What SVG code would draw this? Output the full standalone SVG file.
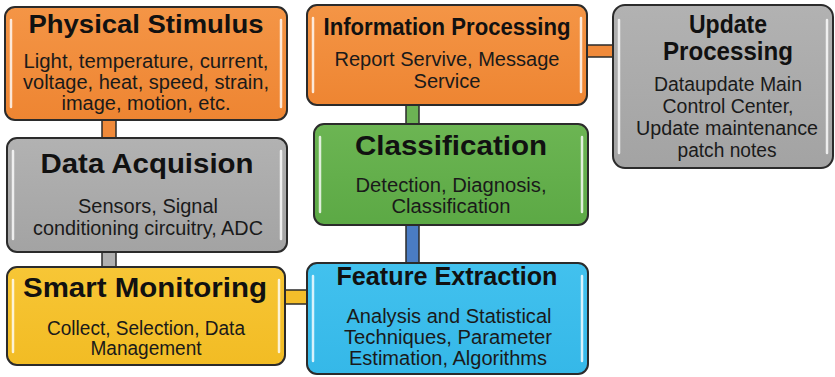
<svg xmlns="http://www.w3.org/2000/svg" width="835" height="377" viewBox="0 0 835 377">
<defs>
<style>
.box{stroke:#2b2b2b;stroke-width:2}
.hl{stroke:#ffffff;stroke-width:2.5;stroke-linecap:round;opacity:0.8;fill:none}
.t{font-family:"Liberation Sans",Arial,sans-serif;font-weight:bold;fill:#111;text-anchor:middle}
.b{font-family:"Liberation Sans",Arial,sans-serif;fill:#1a1a1a;text-anchor:middle;font-size:20px}
.c{stroke:#2b2b2b;stroke-width:1.5}
</style>
<linearGradient id="gO" x1="0" y1="0" x2="0" y2="1"><stop offset="0" stop-color="#f49546"/><stop offset="1" stop-color="#ee8532"/></linearGradient>
<linearGradient id="gG" x1="0" y1="0" x2="0" y2="1"><stop offset="0" stop-color="#b2b2b2"/><stop offset="1" stop-color="#a3a3a3"/></linearGradient>
<linearGradient id="gN" x1="0" y1="0" x2="0" y2="1"><stop offset="0" stop-color="#6cb553"/><stop offset="1" stop-color="#5ca945"/></linearGradient>
<linearGradient id="gY" x1="0" y1="0" x2="0" y2="1"><stop offset="0" stop-color="#f7c636"/><stop offset="1" stop-color="#f2bc24"/></linearGradient>
<linearGradient id="gB" x1="0" y1="0" x2="0" y2="1"><stop offset="0" stop-color="#42c1ee"/><stop offset="1" stop-color="#35b8e8"/></linearGradient>
</defs>
<g id="connectors">
<rect class="c" x="102" y="119" width="14" height="20" fill="#f08a3a"/>
<rect class="c" x="102" y="251" width="14" height="17" fill="#b0b0b0"/>
<rect class="c" x="285" y="290" width="23" height="14" fill="#f4be2a"/>
<rect class="c" x="406" y="104" width="13" height="21" fill="#6cb354"/>
<rect class="c" x="406" y="224" width="13" height="40" fill="#4a7cc4"/>
<rect class="c" x="586" y="45" width="28" height="12" fill="#f08a3a"/>
</g>
<g id="physical-stimulus">
<rect class="box" x="5" y="7" width="282" height="113" rx="10" fill="url(#gO)"/>
<path class="hl" d="M11 20V107M281 20V107"/>
<text class="t" x="146" y="33" font-size="25" textLength="235" lengthAdjust="spacingAndGlyphs">Physical Stimulus</text>
<text class="b" x="146" y="68" textLength="245" lengthAdjust="spacingAndGlyphs">Light, temperature, current,</text>
<text class="b" x="146" y="89" textLength="246" lengthAdjust="spacingAndGlyphs">voltage, heat, speed, strain,</text>
<text class="b" x="146" y="110" textLength="169" lengthAdjust="spacingAndGlyphs">image, motion, etc.</text>
</g>
<g id="data-acquision">
<rect class="box" x="7" y="138" width="280" height="114" rx="10" fill="url(#gG)"/>
<path class="hl" d="M13 151V239M281 151V239"/>
<text class="t" x="147" y="173" font-size="28" textLength="213" lengthAdjust="spacingAndGlyphs">Data Acquision</text>
<text class="b" x="148" y="213" textLength="140" lengthAdjust="spacingAndGlyphs">Sensors, Signal</text>
<text class="b" x="148" y="235" textLength="230" lengthAdjust="spacingAndGlyphs">conditioning circuitry, ADC</text>
</g>
<g id="smart-monitoring">
<rect class="box" x="7" y="267" width="278" height="98" rx="10" fill="url(#gY)"/>
<path class="hl" d="M13 280V352M279 280V352"/>
<text class="t" x="145" y="297" font-size="27" textLength="244" lengthAdjust="spacingAndGlyphs">Smart Monitoring</text>
<text class="b" x="146" y="335" textLength="198" lengthAdjust="spacingAndGlyphs">Collect, Selection, Data</text>
<text class="b" x="146" y="355" textLength="111" lengthAdjust="spacingAndGlyphs">Management</text>
</g>
<g id="information-processing">
<rect class="box" x="307" y="5" width="280" height="100" rx="10" fill="url(#gO)"/>
<path class="hl" d="M313 18V92M581 18V92"/>
<text class="t" x="447" y="35" font-size="23" textLength="247" lengthAdjust="spacingAndGlyphs">Information Processing</text>
<text class="b" x="447" y="66" textLength="225" lengthAdjust="spacingAndGlyphs">Report Servive, Message</text>
<text class="b" x="447" y="88" textLength="67" lengthAdjust="spacingAndGlyphs">Service</text>
</g>
<g id="classification">
<rect class="box" x="314" y="124" width="274" height="101" rx="10" fill="url(#gN)"/>
<path class="hl" d="M320 137V212M582 137V212"/>
<text class="t" x="451" y="155" font-size="28" textLength="192" lengthAdjust="spacingAndGlyphs">Classification</text>
<text class="b" x="451" y="192" textLength="191" lengthAdjust="spacingAndGlyphs">Detection, Diagnosis,</text>
<text class="b" x="451" y="213" textLength="119" lengthAdjust="spacingAndGlyphs">Classification</text>
</g>
<g id="feature-extraction">
<rect class="box" x="307" y="263" width="281" height="111" rx="10" fill="url(#gB)"/>
<path class="hl" d="M313 276V361M582 276V361"/>
<text class="t" x="447" y="285" font-size="25" textLength="221" lengthAdjust="spacingAndGlyphs">Feature Extraction</text>
<text class="b" x="449" y="323" textLength="205" lengthAdjust="spacingAndGlyphs">Analysis and Statistical</text>
<text class="b" x="448" y="344" textLength="208" lengthAdjust="spacingAndGlyphs">Techniques, Parameter</text>
<text class="b" x="448" y="365" textLength="198" lengthAdjust="spacingAndGlyphs">Estimation, Algorithms</text>
</g>
<g id="update-processing">
<rect class="box" x="613" y="5" width="220" height="163" rx="12" fill="url(#gG)"/>
<path class="hl" d="M619 20V153M827 20V153"/>
<text class="t" x="728" y="33" font-size="25" textLength="78" lengthAdjust="spacingAndGlyphs">Update</text>
<text class="t" x="728" y="60" font-size="25" textLength="130" lengthAdjust="spacingAndGlyphs">Processing</text>
<text class="b" x="728" y="91" textLength="148" lengthAdjust="spacingAndGlyphs">Dataupdate Main</text>
<text class="b" x="728" y="113" textLength="131" lengthAdjust="spacingAndGlyphs">Control Center,</text>
<text class="b" x="727" y="135" textLength="182" lengthAdjust="spacingAndGlyphs">Update maintenance</text>
<text class="b" x="727" y="157" textLength="99" lengthAdjust="spacingAndGlyphs">patch notes</text>
</g>
</svg>
